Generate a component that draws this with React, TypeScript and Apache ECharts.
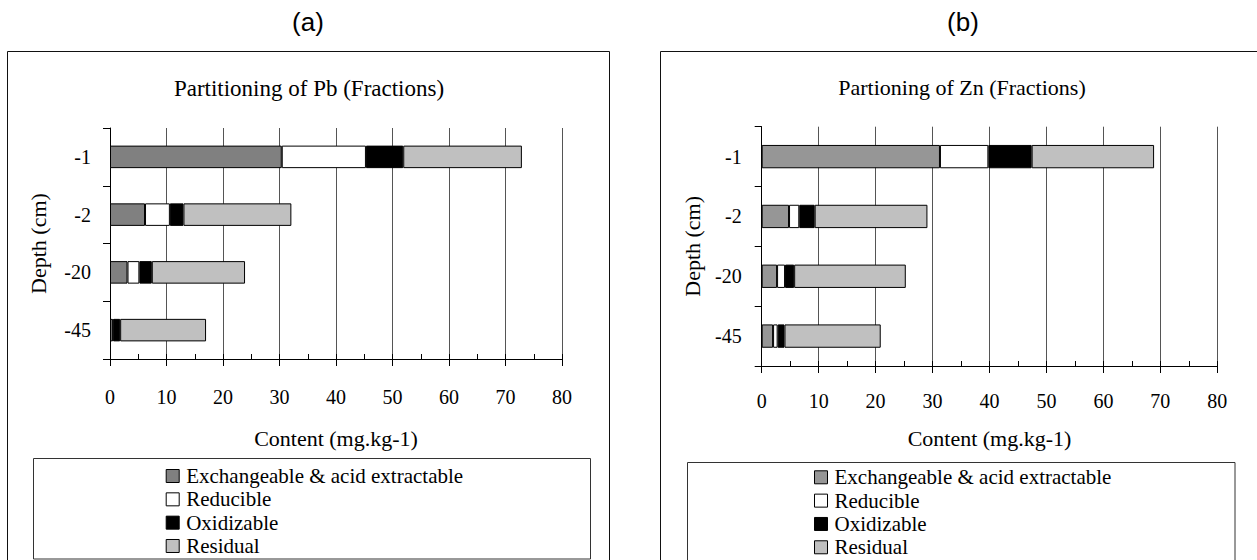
import React, { useEffect, useRef } from 'react';
import * as echarts from 'echarts';

const depths = ['-1', '-2', '-20', '-45'];
const fractionNames = ['Exchangeable & acid extractable', 'Reducible', 'Oxidizable', 'Residual'];

// Pb fractions (mg.kg-1)
const pbExchangeable = [30.4, 6.2, 3.1, 0.5];
const pbReducible = [14.9, 4.4, 2.1, 0.1];
const pbOxidizable = [6.6, 2.4, 2.2, 1.2];
const pbResidual = [21.0, 19.1, 16.5, 15.2];

// Zn fractions (mg.kg-1)
const znExchangeable = [31.3, 4.8, 2.7, 2.0];
const znReducible = [8.5, 1.8, 1.4, 0.8];
const znOxidizable = [7.6, 2.7, 1.6, 1.2];
const znResidual = [21.5, 19.8, 19.6, 16.9];

const panelLabels = ['(a)', '(b)'];
const panelTitles = ['Partitioning of Pb (Fractions)', 'Partioning of Zn (Fractions)'];
const xAxisTitle = 'Content (mg.kg-1)';
const yAxisTitle = 'Depth (cm)';

const colorsA = ['#808080', '#ffffff', '#000000', '#c0c0c0'];
const colorsB = ['#969696', '#ffffff', '#000000', '#c0c0c0'];

const SERIF = "'Liberation Serif', 'Times New Roman', serif";
const SANS = "'Liberation Sans', Arial, sans-serif";

export default function App() {
  const ref = useRef<HTMLDivElement>(null);

  useEffect(() => {
    if (!ref.current) return;
    const chart = echarts.init(ref.current, undefined, { renderer: 'svg' });

    const pbData = [pbExchangeable, pbReducible, pbOxidizable, pbResidual];
    const znData = [znExchangeable, znReducible, znOxidizable, znResidual];

    const mainX = (gridIndex: number, margin: number, nameGap: number) => ({
      gridIndex,
      type: 'value',
      min: 0,
      max: 80,
      interval: 10,
      position: 'bottom',
      axisLine: { show: true, lineStyle: { color: '#000', width: 1 } },
      axisTick: { show: true, length: 7, lineStyle: { color: '#000' } },
      axisLabel: { margin, fontFamily: SERIF, fontSize: 20, color: '#000' },
      splitLine: { show: true, lineStyle: { color: '#555', width: 1 } },
      name: xAxisTitle,
      nameLocation: 'middle',
      nameGap,
      nameTextStyle: { fontFamily: SERIF, fontSize: 22, color: '#000' },
    });
    const minorX = (gridIndex: number) => ({
      gridIndex,
      type: 'value',
      min: 0,
      max: 80,
      interval: 5,
      position: 'bottom',
      axisLine: { show: false },
      axisTick: { show: true, inside: true, length: 5, lineStyle: { color: '#000' } },
      axisLabel: { show: false },
      splitLine: { show: false },
    });
    const yAx = (gridIndex: number, margin: number, nameGap: number) => ({
      gridIndex,
      type: 'category',
      inverse: true,
      data: depths,
      axisLine: { show: true, lineStyle: { color: '#000', width: 1 } },
      axisTick: { show: true, length: 7, lineStyle: { color: '#000' } },
      axisLabel: { margin, fontFamily: SERIF, fontSize: 20, color: '#000' },
      splitLine: { show: false },
      name: yAxisTitle,
      nameLocation: 'middle',
      nameGap,
      nameTextStyle: { fontFamily: SERIF, fontSize: 22, color: '#000' },
    });

    const series: any[] = [];
    fractionNames.forEach((name, i) => {
      series.push({
        name,
        type: 'bar',
        stack: 'pb',
        xAxisIndex: 0,
        yAxisIndex: 0,
        barWidth: '39%',
        data: pbData[i],
        itemStyle: { color: colorsA[i], borderColor: '#000', borderWidth: 1 },
      });
    });
    fractionNames.forEach((name, i) => {
      series.push({
        name,
        type: 'bar',
        stack: 'zn',
        xAxisIndex: 2,
        yAxisIndex: 1,
        barWidth: '39%',
        data: znData[i],
        itemStyle: { color: colorsB[i], borderColor: '#000', borderWidth: 1 },
      });
    });

    const legendBase = (left: number, top: number, colors: string[]) => ({
      orient: 'vertical',
      left,
      top,
      padding: 0,
      itemWidth: 13,
      itemHeight: 13,
      itemGap: 2.33,
      icon: 'rect',
      selectedMode: false,
      textStyle: { fontFamily: SERIF, fontSize: 21, lineHeight: 21, color: '#000', padding: [0, 0, 0, 2] },
      data: fractionNames.map((n, i) => ({
        name: n,
        itemStyle: { color: colors[i], borderColor: '#000', borderWidth: 1 },
      })),
    });

    const option: any = {
      animation: false,
      backgroundColor: '#fff',
      grid: [
        { left: 110, top: 128, width: 452, height: 231 },
        { left: 761.7, top: 126.7, width: 455.6, height: 239.3 },
      ],
      xAxis: [mainX(0, 28, 68), minorX(0), mainX(1, 25, 61), minorX(1)],
      yAxis: [yAx(0, 19, 61), yAx(1, 20, 58)],
      legend: [legendBase(165.7, 465.5, colorsA), legendBase(814, 466.8, colorsB)],
      series,
      graphic: [
        { type: 'rect', shape: { x: 7.5, y: 51.5, width: 602, height: 600 }, style: { fill: 'none', stroke: '#111', lineWidth: 1 }, silent: true, z: -1 },
        { type: 'rect', shape: { x: 660.5, y: 51.5, width: 700, height: 600 }, style: { fill: 'none', stroke: '#111', lineWidth: 1 }, silent: true, z: -1 },
        { type: 'rect', shape: { x: 33.5, y: 458.5, width: 557, height: 100.5 }, style: { fill: 'none', stroke: '#333', lineWidth: 1 }, silent: true },
        { type: 'rect', shape: { x: 687.5, y: 462.5, width: 547.5, height: 110 }, style: { fill: 'none', stroke: '#333', lineWidth: 1 }, silent: true },
        { type: 'text', x: 308, y: 22, style: { text: panelLabels[0], font: `26px ${SANS}`, fill: '#000', textAlign: 'center', textVerticalAlign: 'middle' } },
        { type: 'text', x: 963, y: 22, style: { text: panelLabels[1], font: `26px ${SANS}`, fill: '#000', textAlign: 'center', textVerticalAlign: 'middle' } },
        { type: 'text', x: 309, y: 88, style: { text: panelTitles[0], font: `23px ${SERIF}`, fill: '#000', textAlign: 'center', textVerticalAlign: 'middle' } },
        { type: 'text', x: 962, y: 87.5, style: { text: panelTitles[1], font: `22px ${SERIF}`, fill: '#000', textAlign: 'center', textVerticalAlign: 'middle' } },
      ],
    };

    chart.setOption(option);
    return () => chart.dispose();
  }, []);

  return (
    <div
      ref={ref}
      style={{ position: 'fixed', left: 0, top: 0, width: 1257, height: 560, background: '#fff' }}
    />
  );
}
